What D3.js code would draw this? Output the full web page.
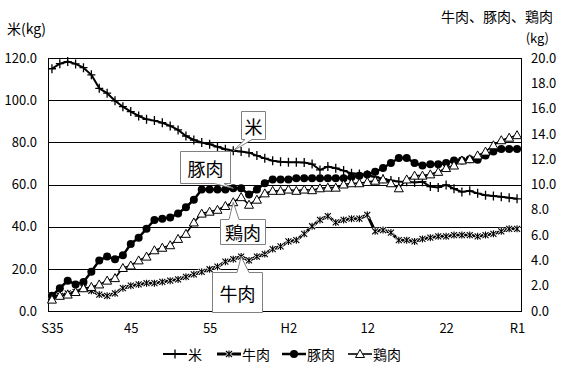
<!DOCTYPE html>
<html><head><meta charset="utf-8">
<script src="https://cdn.jsdelivr.net/npm/d3@7"></script>
<style>
html,body{margin:0;padding:0;background:#fff;}
text{font-family:"Noto Sans CJK JP","Noto Sans",sans-serif;fill:#000;}
</style></head>
<body>
<svg id="c" width="561" height="367"></svg>
<script>
const years = [1960,1961,1962,1963,1964,1965,1966,1967,1968,1969,1970,1971,1972,1973,1974,1975,1976,1977,1978,1979,1980,1981,1982,1983,1984,1985,1986,1987,1988,1989,1990,1991,1992,1993,1994,1995,1996,1997,1998,1999,2000,2001,2002,2003,2004,2005,2006,2007,2008,2009,2010,2011,2012,2013,2014,2015,2016,2017,2018,2019];
const rice = [114.9,117.3,118.3,117.2,115.4,112.0,105.6,103.3,99.7,96.9,94.6,92.5,90.9,90.3,89.3,87.8,85.9,83.0,81.1,79.9,79.1,77.9,76.7,76.0,75.6,75.1,73.7,72.4,71.3,70.8,70.5,70.5,70.4,69.7,66.9,68.5,67.7,66.6,65.3,65.0,64.6,63.6,62.7,61.9,61.4,61.3,61.0,61.3,59.0,58.6,59.8,58.0,56.5,57.0,55.8,54.9,54.6,54.2,53.7,53.2];
const beef = [1.2,1.2,1.4,1.5,1.8,1.6,1.3,1.2,1.4,1.8,2.0,2.1,2.2,2.2,2.3,2.4,2.5,2.7,2.9,3.1,3.3,3.5,3.9,4.1,4.3,4.0,4.3,4.5,4.9,5.1,5.5,5.6,6.1,6.7,7.2,7.5,7.0,7.2,7.3,7.3,7.6,6.3,6.4,6.2,5.6,5.6,5.5,5.7,5.8,5.9,5.9,6.0,6.0,6.0,5.9,6.0,6.1,6.3,6.5,6.5];
const pork = [1.2,1.8,2.4,2.1,2.3,3.1,4.0,4.3,4.1,4.4,5.3,5.8,6.5,7.2,7.3,7.4,7.7,8.2,8.8,9.6,9.6,9.6,9.6,9.7,9.7,9.2,9.6,10.1,10.4,10.4,10.4,10.5,10.5,10.5,10.5,10.5,10.5,10.5,10.6,10.7,10.8,11.0,11.3,11.7,12.1,12.1,11.7,11.5,11.6,11.6,11.7,11.9,11.9,12.0,11.95,12.3,12.6,12.8,12.8,12.8];
const chicken = [0.9,1.2,1.3,1.5,1.8,1.9,2.1,2.4,2.6,3.4,3.6,4.0,4.3,4.8,5.0,5.2,5.7,6.1,7.0,7.7,7.85,8.0,8.3,8.6,9.0,8.4,8.8,9.3,9.5,9.5,9.6,9.5,9.6,9.55,9.7,9.75,9.75,10.0,10.1,10.1,10.2,10.3,10.4,10.1,9.7,10.4,10.7,10.7,10.8,11.0,11.3,11.5,11.9,12.0,12.3,12.6,13.1,13.5,13.7,13.9];
const tickYears = [1960,1970,1980,1990,2000,2010,2019];
const tickLabels = ["S35","45","55","H2","12","22","R1"];
const leftTicks = [0,20,40,60,80,100,120];
const rightTicks = [0,2,4,6,8,10,12,14,16,18,20];
const seriesNames = ["米","牛肉","豚肉","鶏肉"];

const L=48,R=521,T=58,B=311;
const svg=d3.select("#c");
const x=d3.scalePoint().domain(years).range([L,R]).padding(0.5);
const yL=d3.scaleLinear().domain([0,120]).range([B,T]);
const yR=d3.scaleLinear().domain([0,20]).range([B,T]);

// gridlines
svg.append("g").selectAll("line").data(leftTicks.filter(d=>d>0&&d<120)).join("line")
 .attr("x1",L).attr("x2",R).attr("y1",d=>Math.round(yL(d))+0.5).attr("y2",d=>Math.round(yL(d))+0.5)
 .attr("stroke","#000").attr("stroke-width",1);
svg.append("rect").attr("x",L+0.5).attr("y",T+0.5).attr("width",R-L).attr("height",B-T)
 .attr("fill","none").attr("stroke","#000").attr("stroke-width",1);

// axes
const ax1=svg.append("g").attr("transform",`translate(${L-11},0)`)
 .call(d3.axisLeft(yL).tickValues(leftTicks).tickFormat(d3.format(".1f")).tickSize(0).tickPadding(0));
const ax2=svg.append("g").attr("transform",`translate(${R+10},0)`)
 .call(d3.axisRight(yR).tickValues(rightTicks).tickFormat(d3.format(".1f")).tickSize(0).tickPadding(0));
const ax3=svg.append("g").attr("transform",`translate(0,${B+10})`)
 .call(d3.axisBottom(x).tickValues(tickYears).tickFormat(d=>tickLabels[tickYears.indexOf(d)]).tickSize(0).tickPadding(0));
[ax1,ax2,ax3].forEach(a=>{a.select(".domain").remove();a.selectAll("text").style("font-size","13px").attr("fill","#000");});
ax3.selectAll("text").attr("dy","0.9em");

// titles
svg.append("text").attr("x",7).attr("y",34).style("font-size","14px").text("米(kg)");
svg.append("text").attr("x",553).attr("y",22).attr("text-anchor","end").style("font-size","14px").text("牛肉、豚肉、鶏肉");
svg.append("text").attr("x",549).attr("y",43).attr("text-anchor","end").style("font-size","13px").text("(kg)");

// markers
function marker(g,type,cx,cy){
  if(type==="rice"){
    g.append("path").attr("d",`M${cx-4},${cy}H${cx+4}M${cx},${cy-4.5}V${cy+4.5}`).attr("stroke","#000").attr("stroke-width",1.3);
  } else if(type==="beef"){
    const p=`M${cx-3},${cy-3}L${cx+3},${cy+3}M${cx-3},${cy+3}L${cx+3},${cy-3}M${cx},${cy-3.5}V${cy+3.5}`;
    g.append("path").attr("d",p).attr("stroke","#fff").attr("stroke-width",2.6);
    g.append("path").attr("d",p).attr("stroke","#000").attr("stroke-width",1.1);
  } else if(type==="pork"){
    g.append("circle").attr("cx",cx).attr("cy",cy).attr("r",4).attr("fill","#000");
  } else {
    g.append("path").attr("d",`M${cx},${cy-4.5}L${cx+4.5},${cy+3.5}L${cx-4.5},${cy+3.5}Z`).attr("fill","#fff").attr("stroke","#000").attr("stroke-width",1);
  }
}
const series=[
 {vals:rice,y:yL,type:"rice",w:2},
 {vals:beef,y:yR,type:"beef",w:3},
 {vals:pork,y:yR,type:"pork",w:2.5},
 {vals:chicken,y:yR,type:"chicken",w:1.6}
];
series.forEach(s=>{
  const g=svg.append("g");
  const line=d3.line().x((d,i)=>x(years[i])).y(d=>s.y(d));
  g.append("path").datum(s.vals).attr("d",line).attr("fill","none").attr("stroke","#000").attr("stroke-width",s.w).attr("stroke-linejoin","round");
  s.vals.forEach((v,i)=>marker(g,s.type,x(years[i]),s.y(v)));
});

// callouts
function callout(bx,by,bw,bh,side,b1,b2,tx,ty,label,fs){
  let d;
  const x2=bx+bw,y2=by+bh;
  if(side==="bottom") d=`M${bx},${by}H${x2}V${y2}H${b2}L${tx},${ty}L${b1},${y2}H${bx}Z`;
  else if(side==="top") d=`M${bx},${by}H${b1}L${tx},${ty}L${b2},${by}H${x2}V${y2}H${bx}Z`;
  svg.append("path").attr("d",d).attr("fill","#fff").attr("stroke","#808080").attr("stroke-width",1);
  svg.append("text").attr("x",bx+bw/2).attr("y",by+bh/2).attr("text-anchor","middle").attr("dominant-baseline","central").style("font-size",fs+"px").text(label);
}
const iT=years.indexOf(1983), iB=years.indexOf(1984);
callout(241.5,111.5,24,28,"bottom",245,252,x(years[iT]),yL(rice[iT]),seriesNames[0],18);
callout(180.5,151.5,50,32,"bottom",214,224,x(years[iT]),yR(pork[iT]),seriesNames[2],18);
callout(220.5,219.5,45,25,"top",229,239,x(years[iT]),yR(chicken[iT]),seriesNames[3],18);
callout(212.5,272.5,50,40,"top",237,249,x(years[iB]),yR(beef[iB]),seriesNames[1],18);

// legend
const leg=[{t:"rice",x:163,n:seriesNames[0],w:2},{t:"beef",x:217,n:seriesNames[1],w:3},{t:"pork",x:282,n:seriesNames[2],w:2.5},{t:"chicken",x:348,n:seriesNames[3],w:1.6}];
const ly=354;
leg.forEach(l=>{
  const g=svg.append("g");
  g.append("line").attr("x1",l.x).attr("x2",l.x+24).attr("y1",ly).attr("y2",ly).attr("stroke","#000").attr("stroke-width",l.w);
  marker(g,l.t,l.x+12,ly);
  g.append("text").attr("x",l.x+25).attr("y",ly).attr("dominant-baseline","central").style("font-size","14px").text(l.n);
});
</script>
</body></html>
